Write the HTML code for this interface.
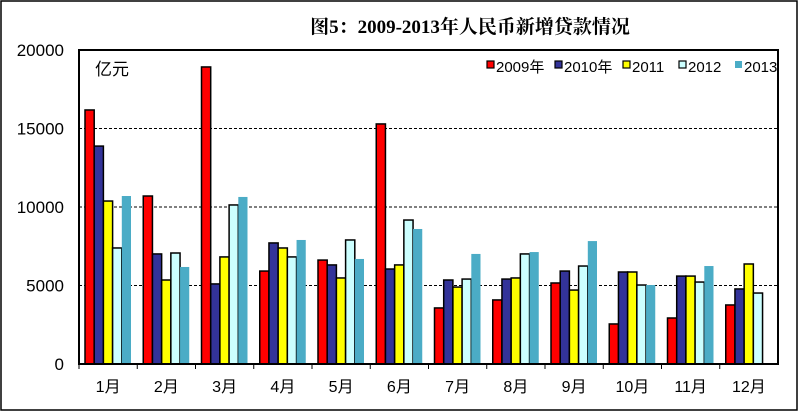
<!DOCTYPE html>
<html><head><meta charset="utf-8"><style>
body{margin:0;background:#fff}
svg text{font-family:"Liberation Sans","Noto Sans CJK SC",sans-serif}
</style></head><body>
<svg id="c" width="799" height="412" xmlns="http://www.w3.org/2000/svg">
<rect x="1" y="1" width="796" height="409" fill="#fff" stroke="#000" stroke-width="1.5"/>
<text x="470" y="33" text-anchor="middle" font-size="19" font-weight="bold" style="font-family:'Liberation Serif','Noto Serif CJK SC',serif">图5：2009-2013年人民币新增贷款情况</text>
<g id="grid"></g>
<g id="bars"></g>
<rect x="79" y="50" width="699" height="314" fill="none" stroke="#000" stroke-width="2"/>
<text x="95" y="75" font-size="17">亿元</text>
<g id="axes"></g>
<g id="legend"></g>
</svg>
<script>
const categories=["1月","2月","3月","4月","5月","6月","7月","8月","9月","10月","11月","12月"];
const s2009=[16180,10700,18920,5920,6620,15290,3570,4080,5160,2550,2930,3760];
const s2010=[13880,7010,5100,7710,6310,6050,5350,5410,5920,5860,5600,4780];
const s2011=[10380,5350,6820,7390,5480,6310,4900,5480,4710,5860,5600,6370];
const s2012=[7390,7070,10130,6820,7900,9170,5410,7010,6240,5030,5220,4520];
const s2013=[10700,6180,10640,7900,6690,8600,7010,7130,7830,5030,6240,null];
const seriesNames=["2009年","2010年","2011","2012","2013"];
const yTicks=[0,5000,10000,15000,20000];
const series=[s2009,s2010,s2011,s2012,s2013];
const colors=["#ff0000","#333399","#ffff00","#ccffff","#4bacc6"];
const strokes=[true,true,true,true,false];
const NS="http://www.w3.org/2000/svg";
const L=79,R=778,T=50,B=364,YMAX=20000;
const y=v=>B-v/YMAX*(B-T);
const cw=(R-L)/categories.length;
const x=i=>L+i*cw;
function mk(tag,attrs,parent){const e=document.createElementNS(NS,tag);for(const k in attrs)e.setAttribute(k,attrs[k]);document.getElementById(parent).appendChild(e);return e;}
yTicks.forEach(t=>{
  if(t>0&&t<YMAX){const g=mk('line',{x1:L,x2:R,y1:y(t),y2:y(t),stroke:'#000','stroke-dasharray':'3,2','stroke-width':1},'grid');
  
  }
  const tx=mk('text',{x:64,y:y(t)+6,'text-anchor':'end','font-size':17},'axes');tx.textContent=t;
  
  
});
categories.forEach((c,i)=>{
  const tk=mk('line',{x1:x(i),x2:x(i),y1:B,y2:B+5,stroke:'#000'},'axes');
  
  
  const tx=mk('text',{x:x(i)+cw/2,y:392,'text-anchor':'middle','font-size':16},'axes');tx.textContent=c;
  
  
  series.forEach((s,j)=>{
    const v=s[i];if(v==null)return;
    const bw=9.2,bx=x(i)+6+j*bw;
    const r=mk('rect',{x:bx,y:y(v),width:bw,height:B-y(v),fill:colors[j],stroke:strokes[j]?'#000':'none','stroke-width':1.5},'bars');
    
    
  });
});
const lx=[487,555,623,679,735];
seriesNames.forEach((n,j)=>{
  const r=mk('rect',{x:lx[j],y:61,width:7,height:7,fill:colors[j],stroke:strokes[j]?'#000':'none','stroke-width':1.2},'legend');
  
  
  const t=mk('text',{x:lx[j]+9,y:72,'font-size':15},'legend');t.textContent=n;
  
  
});
</script>
</body></html>
